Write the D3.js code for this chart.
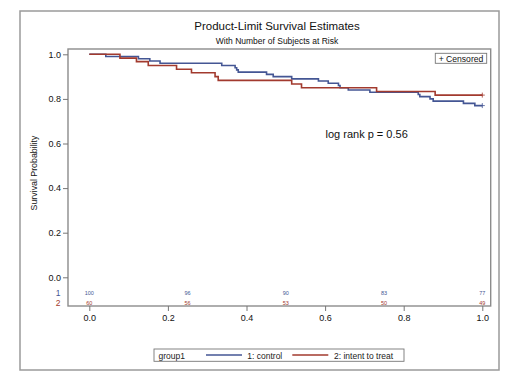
<!DOCTYPE html>
<html><head><meta charset="utf-8">
<script src="https://cdn.jsdelivr.net/npm/d3@7"></script>
<style>body{margin:0;background:#fff}svg{display:block}text{font-family:"Liberation Sans",Arial,sans-serif}</style>
</head><body><svg id="c" width="520" height="384"></svg>
<script>
// ---- data ----
const title = "Product-Limit Survival Estimates";
const subtitle = "With Number of Subjects at Risk";
const yTicks = [0.0, 0.2, 0.4, 0.6, 0.8, 1.0];
const xTicks = [0.0, 0.2, 0.4, 0.6, 0.8, 1.0];
const groups = ["1: control", "2: intent to treat"];
const groupIds = ["1", "2"];
// control (group 1) step curve: event times and survival after each step
const controlTime = [0, 0.042, 0.125, 0.154, 0.180, 0.337, 0.371, 0.375, 0.379, 0.451, 0.468, 0.515, 0.583, 0.608, 0.634, 0.638, 0.659, 0.714, 0.837, 0.841, 0.867, 0.875, 0.952, 0.981, 1.0];
const controlSurv = [1.00, 0.99, 0.98, 0.97, 0.96, 0.95, 0.94, 0.93, 0.92, 0.91, 0.90, 0.89, 0.88, 0.87, 0.86, 0.85, 0.84, 0.83, 0.82, 0.81, 0.80, 0.79, 0.78, 0.77, 0.77];
// intent to treat (group 2)
const treatTime = [0, 0.078, 0.120, 0.150, 0.222, 0.260, 0.320, 0.328, 0.515, 0.540, 0.731, 0.880, 1.0];
const treatSurv = [1.000, 0.983, 0.967, 0.950, 0.933, 0.917, 0.900, 0.883, 0.867, 0.850, 0.833, 0.817, 0.817];
// censoring at end
const censorTime = [1.0, 1.0];
const censorSurv = [0.77, 0.817];
// numbers at risk
const riskTimes = [0, 0.25, 0.5, 0.75, 1.0];
const riskControl = [100, 96, 90, 83, 77];
const riskTreat = [60, 56, 53, 50, 49];
const pText = "log rank p = 0.56";

const colors = ["#445694", "#A23A2E"];

const svg = d3.select("#c");
const x = d3.scaleLinear().domain([0, 1]).range([89.3, 482.3]);
const y = d3.scaleLinear().domain([0, 1]).range([277.3, 54.3]);
const frame = {l: 68, r: 490.7, t: 49, b: 306};

// outer border
svg.append("rect").attr("x", 20).attr("y", 11).attr("width", 479).attr("height", 359)
  .attr("fill", "none").attr("stroke", "#9a9a9a").attr("stroke-width", 1.5);

// titles
svg.append("text").attr("x", 277).attr("y", 30).attr("text-anchor", "middle")
  .attr("font-size", 11.5).attr("fill", "#111").text(title);
svg.append("text").attr("x", 277).attr("y", 43.5).attr("text-anchor", "middle")
  .attr("font-size", 8.5).attr("fill", "#111").text(subtitle);

// plot frame
svg.append("rect").attr("x", frame.l).attr("y", frame.t).attr("width", frame.r - frame.l).attr("height", frame.b - frame.t)
  .attr("fill", "none").attr("stroke", "#8c8c8c").attr("stroke-width", 1.4);

// y axis
const yAxis = svg.append("g").attr("transform", `translate(${frame.l},0)`)
  .call(d3.axisLeft(y).tickValues(yTicks).tickFormat(d3.format(".1f")).tickSize(5).tickSizeOuter(0));
yAxis.select(".domain").remove();
yAxis.selectAll("line").attr("stroke", "#777");
yAxis.selectAll("text").attr("font-size", 9).attr("fill", "#111").attr("x", -7).attr("font-family", '"Liberation Sans",Arial,sans-serif');

// x axis
const xAxis = svg.append("g").attr("transform", `translate(0,${frame.b})`)
  .call(d3.axisBottom(x).tickValues(xTicks).tickFormat(d3.format(".1f")).tickSize(5).tickSizeOuter(0));
xAxis.select(".domain").remove();
xAxis.selectAll("line").attr("stroke", "#777");
xAxis.selectAll("text").attr("font-size", 9).attr("fill", "#111").attr("y", 9).attr("font-family", '"Liberation Sans",Arial,sans-serif');

// y label
svg.append("text").attr("transform", "translate(37,173) rotate(-90)").attr("text-anchor", "middle")
  .attr("font-size", 8.8).attr("fill", "#111").text("Survival Probability");

// curves
const line = d3.line().x(d => x(d[0])).y(d => y(d[1])).curve(d3.curveStepAfter);
const series = [d3.zip(controlTime, controlSurv), d3.zip(treatTime, treatSurv)];
svg.selectAll(".km").data(series).join("path").attr("class", "km")
  .attr("d", line).attr("fill", "none").attr("stroke", (d, i) => colors[i]).attr("stroke-width", 1.6);

// censor marks
censorTime.forEach((t, i) => {
  const cx = x(t), cy = y(censorSurv[i]);
  svg.append("path").attr("d", `M${cx-2.5},${cy}H${cx+2.5}M${cx},${cy-2.5}V${cy+2.5}`)
    .attr("stroke", colors[i]).attr("stroke-width", 0.8);
});

// censored legend
svg.append("rect").attr("x", 435.3).attr("y", 53.3).attr("width", 51.4).attr("height", 10)
  .attr("fill", "#fff").attr("stroke", "#777").attr("stroke-width", 0.9);
svg.append("text").attr("x", 461).attr("y", 61.7).attr("text-anchor", "middle")
  .attr("font-size", 8.6).attr("fill", "#111").text("+ Censored");

// log rank
svg.append("text").attr("x", 325.5).attr("y", 137.5).attr("font-size", 11).attr("fill", "#111").text(pText);

// at risk rows
const riskRows = [riskControl, riskTreat];
const rowY = [292.7, 302.7];
riskRows.forEach((row, gi) => {
  svg.append("text").attr("x", 58).attr("y", rowY[gi]).attr("dy", "0.35em").attr("text-anchor", "middle")
    .attr("font-size", 8.5).attr("fill", colors[gi]).text(groupIds[gi]);
  svg.selectAll(".r" + gi).data(riskTimes).join("text").attr("class", "r" + gi)
    .attr("x", d => x(d)).attr("y", rowY[gi]).attr("dy", "0.35em").attr("text-anchor", "middle")
    .attr("font-size", 5.5).attr("fill", colors[gi]).text((d, i) => row[i]);
});

// group legend
svg.append("rect").attr("x", 154).attr("y", 349).attr("width", 250).attr("height", 12.3)
  .attr("fill", "#fff").attr("stroke", "#777").attr("stroke-width", 0.9);
svg.append("text").attr("x", 158.5).attr("y", 358.5).attr("font-size", 8.5).attr("fill", "#222").text("group1");
const legX = [[206, 242, 247.3], [292.3, 328.3, 334]];
groups.forEach((g, i) => {
  svg.append("line").attr("x1", legX[i][0]).attr("x2", legX[i][1]).attr("y1", 355).attr("y2", 355)
    .attr("stroke", colors[i]).attr("stroke-width", 1.3);
  svg.append("text").attr("x", legX[i][2]).attr("y", 358.5).attr("font-size", 8.5).attr("fill", "#222").text(g);
});
</script></body></html>
